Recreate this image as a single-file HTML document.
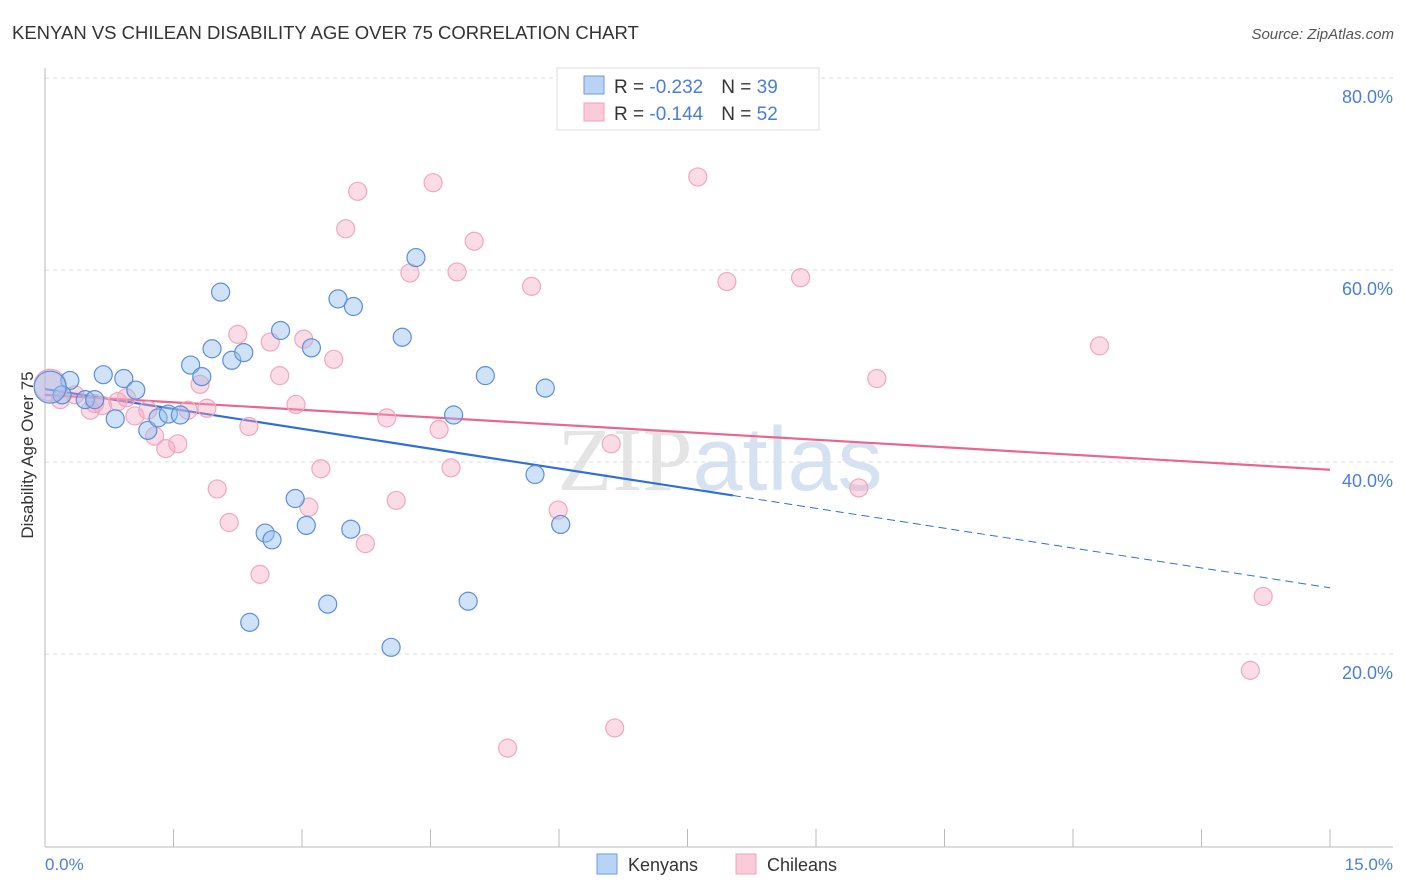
<!DOCTYPE html>
<html><head><meta charset="utf-8"><style>
body{margin:0;background:#fff;font-family:"Liberation Sans",sans-serif}
svg{display:block}
</style></head><body>
<svg width="1406" height="892">
<text x="12" y="39" font-size="18.5" fill="#333">KENYAN VS CHILEAN DISABILITY AGE OVER 75 CORRELATION CHART</text>
<text x="1394" y="39" font-size="15" fill="#555" text-anchor="end" font-style="italic">Source: ZipAtlas.com</text>
<text x="720" y="490" font-size="90" fill="#e4e4e4" text-anchor="middle" font-family="Liberation Serif">ZIP<tspan fill="#d6e2f2" font-family="Liberation Sans">atlas</tspan></text>
<g id="grid"></g><g id="axes"></g><g id="lines"></g><g id="pts"></g>
<text transform="translate(33,455) rotate(-90)" font-size="17" fill="#333" text-anchor="middle">Disability Age Over 75</text>
<text x="45" y="870" font-size="17" fill="#4a7fd4">0.0%</text>
<text x="1393" y="870" font-size="17" fill="#4a7fd4" text-anchor="end">15.0%</text>
<g>
<rect x="557" y="68" width="262" height="62" fill="#fff" stroke="#ddd"/>
<rect x="584" y="76" width="20" height="18" fill="#b9d3f5" stroke="#6b9be0"/>
<rect x="584" y="103" width="20" height="18" fill="#fbcbd9" stroke="#f0a0b8"/>
<text x="614" y="93" font-size="19" fill="#333">R = <tspan fill="#4a7fd4">-0.232</tspan><tspan dx="18">N = </tspan><tspan fill="#4a7fd4">39</tspan></text>
<text x="614" y="120" font-size="19" fill="#333">R = <tspan fill="#4a7fd4">-0.144</tspan><tspan dx="18">N = </tspan><tspan fill="#4a7fd4">52</tspan></text>
</g>
<g>
<rect x="597" y="854" width="20" height="20" fill="#b9d3f5" stroke="#6b9be0"/>
<text x="628" y="871" font-size="18" fill="#333">Kenyans</text>
<rect x="736" y="854" width="20" height="20" fill="#fbcbd9" stroke="#f0a0b8"/>
<text x="767" y="871" font-size="18" fill="#333">Chileans</text>
</g>
</svg>
<script>
const yTicks=[20,40,60,80];
const yTickLabels=["20.0%","40.0%","60.0%","80.0%"];
const kenX=[0.29,0.20,0.47,0.58,0.68,0.92,0.82,1.06,1.20,1.32,1.44,1.58,1.70,1.83,1.95,2.05,2.18,2.32,2.57,2.65,2.39,2.75,2.92,3.05,3.11,3.30,3.42,3.57,3.60,4.04,4.17,4.33,4.77,4.94,5.14,5.72,5.84,6.02,0.06];
const kenY=[48.6,47.1,46.6,46.6,49.2,48.8,44.6,47.6,43.4,44.7,45.1,45.0,50.2,49.0,51.9,57.8,50.7,51.5,32.7,32.0,23.4,53.8,36.3,33.5,52.0,25.3,57.1,33.1,56.3,20.8,53.1,61.4,45.0,25.6,49.1,38.8,47.8,33.6,47.9];
const chiX=[0.18,0.35,0.53,0.58,0.67,0.85,0.95,1.05,1.20,1.28,1.41,1.55,1.67,1.81,1.89,2.01,2.15,2.25,2.38,2.51,2.63,2.74,2.93,3.02,3.08,3.22,3.37,3.51,3.65,3.74,3.99,4.10,4.26,4.53,4.60,4.74,4.81,5.01,5.40,5.68,5.99,6.61,6.65,7.62,7.96,8.82,9.50,9.71,12.31,14.22,14.07,0.06];
const chiY=[46.6,47.1,45.5,46.2,46.0,46.4,46.8,44.9,45.5,42.8,41.5,42.0,45.5,48.2,45.7,37.3,33.8,53.4,43.8,28.4,52.6,49.1,46.1,52.9,35.4,39.4,50.8,64.4,68.3,31.6,44.7,36.1,59.8,69.2,43.5,39.5,59.9,63.1,10.3,58.4,35.1,42.0,12.4,69.8,58.9,59.3,37.4,48.8,52.2,26.1,18.4,48.1];
const kenTrend=[47.7,27.0];
const chiTrend=[47.1,39.3];
const X=v=>45+v*(1285/15), Y=v=>847-v*9.6;
const NS="http://www.w3.org/2000/svg";
function mk(t,a,p){const e=document.createElementNS(NS,t);for(const k in a)e.setAttribute(k,a[k]);p.appendChild(e);return e;}
const grid=document.getElementById('grid');
yTicks.forEach((t,i)=>{
 const l=mk('line',{x1:45,x2:1393,y1:Y(t)-1,y2:Y(t)-1,stroke:'#ddd','stroke-dasharray':'4,4'},grid);
 
 
 const tx=mk('text',{x:1393,y:Y(t)+24,'font-size':18,fill:'#4a7fd4','text-anchor':'end'},grid);
 tx.textContent=yTickLabels[i];
 
 
});
const ax=document.getElementById('axes');
mk('line',{x1:45,x2:45,y1:68,y2:847,stroke:'#bbb'},ax);
mk('line',{x1:45,x2:1393,y1:847,y2:847,stroke:'#bbb'},ax);
for(let i=1;i<=10;i++){const tk=mk('line',{x1:X(i*1.5),x2:X(i*1.5),y1:829,y2:847,stroke:'#bbb'},ax);
 
 }
const pts=document.getElementById('pts');
function dots(xs,ys,fill,stroke,name){xs.forEach((x,i)=>{const big=(x<0.1);
 const c=mk('circle',{cx:X(x),cy:Y(ys[i]),r:big?16:9,fill:fill,stroke:stroke,'stroke-width':1.2},pts);
 
 });}
dots(chiX,chiY,'rgba(245,165,190,0.4)','#f0a8c0','chilean-point');
dots(kenX,kenY,'rgba(150,190,240,0.45)','#5b8fd8','kenyan-point');
const ln=document.getElementById('lines');
const xe=8.03, ye=kenTrend[0]+(kenTrend[1]-kenTrend[0])*xe/15;
const b1=mk('line',{x1:X(0),y1:Y(kenTrend[0]),x2:X(xe),y2:Y(ye),stroke:'#2f6fd6','stroke-width':2.2},ln);


const b2=mk('line',{x1:X(xe),y1:Y(ye),x2:X(15),y2:Y(kenTrend[1]),stroke:'#2f6fd6','stroke-width':1,'stroke-dasharray':'8,5'},ln);


const p1=mk('line',{x1:X(0),y1:Y(chiTrend[0]),x2:X(15),y2:Y(chiTrend[1]),stroke:'#e8668f','stroke-width':2.2},ln);


</script>
</body></html>
